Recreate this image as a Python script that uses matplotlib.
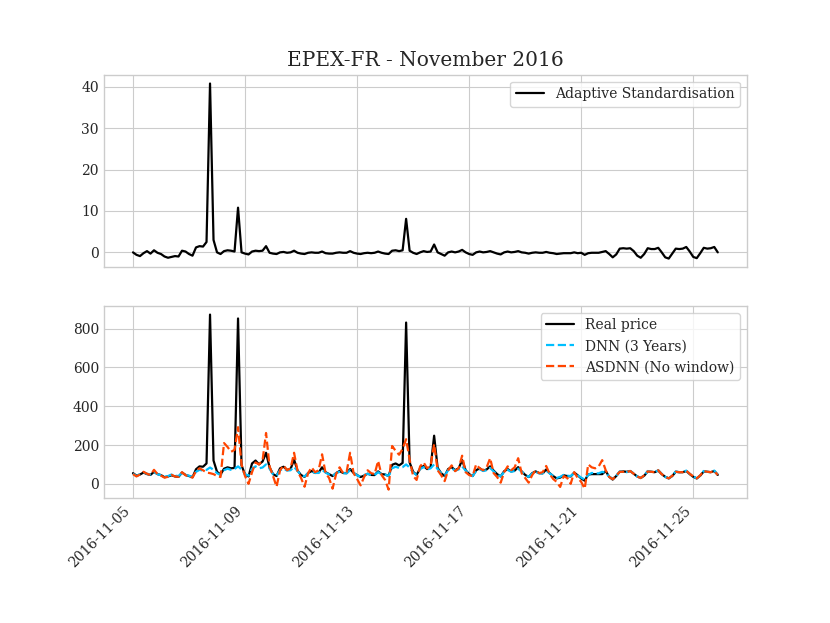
import matplotlib.pyplot as plt
import pandas as pd

plt.style.use('seaborn-v0_8-whitegrid')
plt.rcParams['font.family'] = 'serif'

# 3-hourly values, 8 per day (00,03,...,21h), Nov 5 -> Nov 25
adaptive_std = [
    0.0, -0.6, -0.9, -0.2, 0.3, -0.3, 0.5, -0.1,
    -0.4, -1.0, -1.3, -1.1, -0.9, -1.0, 0.4, 0.2,
    -0.4, -0.8, 1.2, 1.5, 1.4, 2.5, 40.8, 3.0,
    0.0, -0.4, 0.3, 0.5, 0.4, 0.2, 10.8, 0.0,
    -0.3, -0.5, 0.2, 0.4, 0.3, 0.4, 1.5, -0.1,
    -0.3, -0.4, 0.0, 0.1, -0.1, 0.0, 0.4, -0.1,
    -0.3, -0.4, -0.1, 0.0, -0.1, -0.1, 0.2, -0.2,
    -0.3, -0.3, -0.1, 0.0, -0.1, -0.1, 0.3, -0.1,
    -0.3, -0.4, -0.2, -0.1, -0.2, -0.1, 0.2, -0.1,
    -0.3, -0.4, 0.4, 0.5, 0.3, 0.5, 8.1, 0.4,
    -0.1, -0.4, 0.0, 0.3, 0.1, 0.2, 1.9, 0.0,
    -0.4, -0.8, 0.0, 0.2, 0.0, 0.2, 0.6, 0.0,
    -0.4, -0.6, 0.0, 0.2, 0.0, 0.1, 0.3, 0.0,
    -0.3, -0.5, 0.0, 0.2, 0.0, 0.1, 0.3, 0.0,
    -0.1, -0.3, -0.1, 0.0, -0.1, -0.1, 0.1, -0.1,
    -0.2, -0.4, -0.3, -0.2, -0.2, -0.2, 0.0, -0.2,
    -0.1, -0.6, -0.2, -0.1, -0.1, -0.1, 0.1, 0.3,
    -0.4, -1.2, -0.5, 0.9, 1.0, 0.9, 1.0, 0.3,
    -0.8, -1.3, -0.4, 1.0, 0.8, 0.8, 1.1, 0.0,
    -1.2, -1.5, -0.3, 0.9, 0.8, 0.9, 1.3, 0.2,
    -1.1, -1.4, -0.2, 1.1, 0.9, 1.0, 1.3, 0.0,
]

real_price = [
    55, 42, 48, 58, 50, 46, 62, 50,
    45, 34, 38, 44, 38, 36, 58, 46,
    40, 34, 75, 90, 88, 105, 872, 120,
    62, 48, 78, 85, 80, 82, 852, 95,
    48, 38, 105, 120, 100, 115, 160, 85,
    50, 40, 80, 88, 72, 76, 125, 68,
    45, 36, 55, 66, 56, 58, 85, 60,
    50, 40, 55, 66, 56, 55, 76, 56,
    45, 35, 42, 52, 46, 45, 64, 50,
    48, 40, 98, 105, 95, 108, 831, 110,
    62, 46, 80, 92, 76, 86, 248, 82,
    55, 40, 76, 86, 70, 80, 122, 70,
    50, 40, 70, 80, 68, 74, 90, 68,
    50, 38, 65, 76, 64, 68, 86, 64,
    46, 35, 55, 64, 55, 54, 74, 55,
    40, 28, 32, 44, 40, 38, 58, 44,
    28, 16, 48, 50, 50, 50, 50, 66,
    36, 22, 40, 62, 64, 62, 66, 52,
    38, 30, 42, 64, 62, 60, 68, 50,
    36, 28, 40, 62, 60, 60, 66, 50,
    36, 28, 42, 64, 62, 60, 66, 46,
]

dnn_3y = [
    52, 40, 50, 60, 52, 48, 60, 50,
    44, 36, 40, 48, 42, 40, 56, 46,
    42, 36, 62, 72, 68, 72, 84, 72,
    55, 45, 70, 78, 72, 76, 90, 74,
    50, 42, 78, 90, 80, 84, 100, 78,
    50, 42, 70, 78, 68, 70, 88, 66,
    46, 38, 56, 64, 56, 56, 72, 58,
    48, 40, 55, 62, 55, 54, 70, 56,
    44, 36, 44, 52, 46, 45, 60, 50,
    48, 40, 80, 88, 82, 86, 100, 84,
    58, 46, 76, 86, 74, 80, 100, 76,
    54, 42, 70, 80, 68, 74, 90, 68,
    50, 40, 66, 76, 66, 70, 82, 64,
    48, 38, 62, 72, 62, 66, 78, 62,
    46, 36, 54, 62, 54, 54, 68, 54,
    40, 30, 36, 46, 42, 40, 56, 44,
    32, 22, 46, 56, 54, 54, 62, 56,
    38, 26, 40, 64, 62, 60, 66, 54,
    38, 30, 44, 66, 62, 60, 70, 52,
    36, 28, 42, 64, 60, 60, 68, 52,
    38, 28, 44, 66, 62, 60, 68, 48,
]

asdnn = [
    50, 38, 48, 62, 52, 46, 72, 50,
    42, 32, 36, 46, 38, 36, 60, 44,
    38, 32, 66, 80, 70, 58, 55, 50,
    40, 35, 210, 190, 165, 175, 292, 100,
    40, 0, 60, 110, 100, 120, 262, 90,
    40, -15, 70, 95, 70, 80, 160, 65,
    30, -15, 55, 85, 60, 70, 152, 55,
    30, -25, 50, 85, 55, 60, 160, 55,
    25, -8, 35, 70, 55, 50, 118, 45,
    20, -30, 195, 170, 150, 180, 230, 125,
    40, 20, 90, 110, 80, 95, 205, 70,
    45, 14, 70, 95, 65, 80, 145, 60,
    45, 40, 100, 80, 70, 85, 132, 55,
    35, 6, 60, 90, 70, 85, 132, 55,
    30, 6, 45, 70, 55, 60, 92, 50,
    25, 10, -16, 40, 30, 0, 60, 30,
    10, -25, 100, 85, 80, 90, 122, 70,
    36, 24, 42, 62, 62, 60, 66, 52,
    38, 30, 44, 64, 62, 60, 70, 50,
    36, 28, 42, 62, 60, 60, 68, 52,
    38, 28, 44, 66, 62, 60, 66, 46,
]

dates = pd.date_range('2016-11-05', periods=len(real_price), freq='3h')

fig, (ax1, ax2) = plt.subplots(2, 1, sharex=True, figsize=(8.3, 6.23), dpi=100)

ax1.plot(dates, adaptive_std, 'k', lw=1.6, label='Adaptive Standardisation')
ax1.set_title('EPEX-FR - November 2016', fontsize=14.5)
ax1.legend(loc='upper right', frameon=True)

ax2.plot(dates, real_price, 'k', lw=1.6, label='Real price')
ax2.plot(dates, dnn_3y, '--', color='deepskyblue', lw=1.6, label='DNN (3 Years)')
ax2.plot(dates, asdnn, '--', color='orangered', lw=1.6, label='ASDNN (No window)')
ax2.legend(loc='upper right', frameon=True)

fig.autofmt_xdate(rotation=45)
plt.savefig('out.png')
